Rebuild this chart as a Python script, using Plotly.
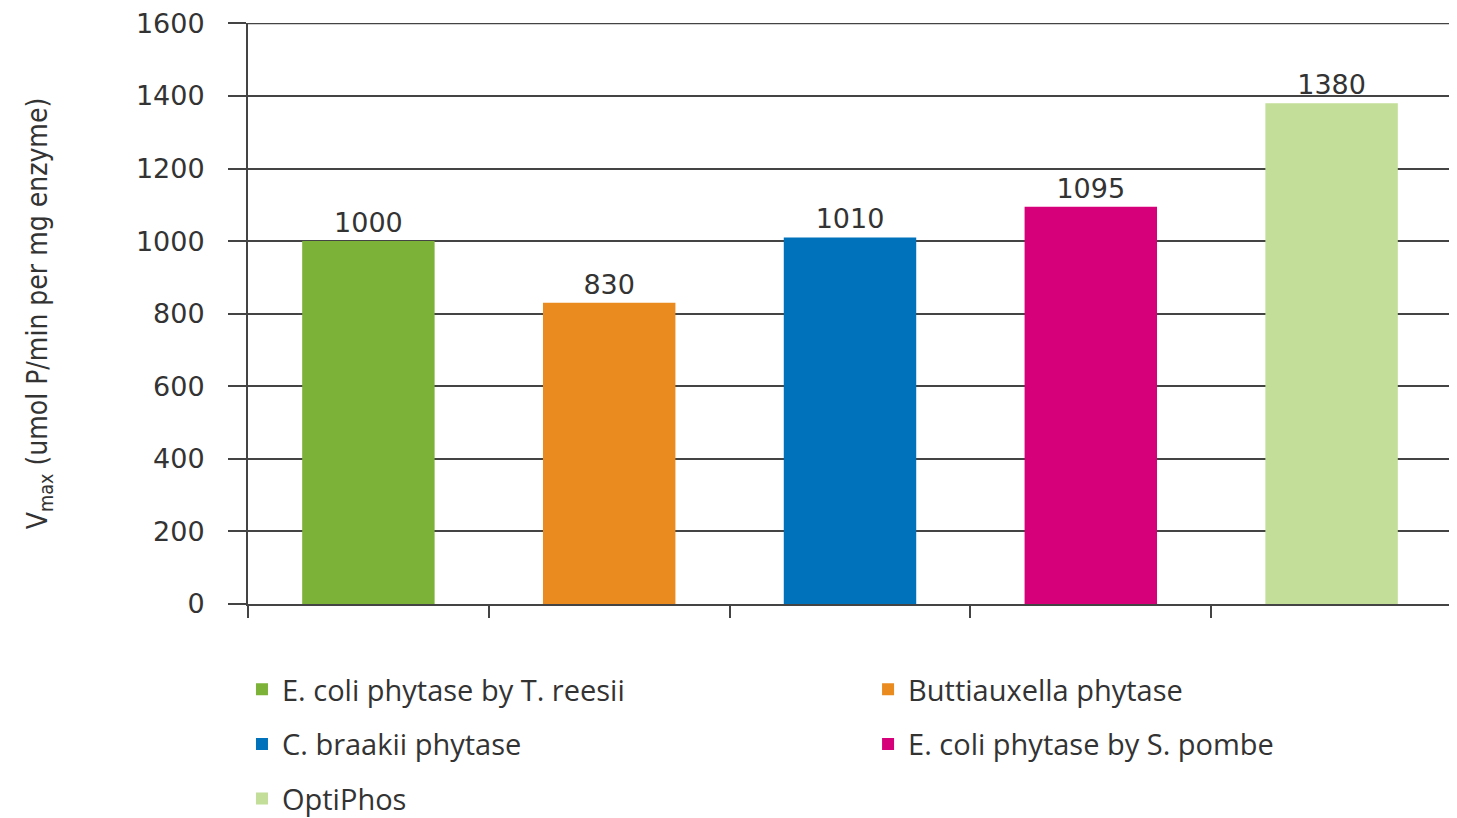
import plotly.graph_objects as go

categories = ["E. coli phytase by T. reesii", "Buttiauxella phytase", "C. braakii phytase",
              "E. coli phytase by S. pombe", "OptiPhos"]
values = [1000, 830, 1010, 1095, 1380]
colors = ["#7db238", "#e98b1f", "#0072bb", "#d6007a", "#c3de98"]
legend_ids = ["legend", "legend2", "legend", "legend2", "legend"]
y_ticks = [0, 200, 400, 600, 800, 1000, 1200, 1400, 1600]

fig = go.Figure()
for i, (c, v, col, lg) in enumerate(zip(categories, values, colors, legend_ids)):
    fig.add_trace(go.Bar(
        x=[c], y=[v], name=c, marker=dict(color=col, line=dict(width=0)),
        width=0.55, text=[str(v)], textposition="outside",
        textfont=dict(family="DejaVu Sans", size=27, color="#333333"),
        cliponaxis=False, legend=lg, legendgroup=c, showlegend=True,
    ))

# top gridline at the axis maximum (plotly omits a gridline at the range edge)
fig.add_shape(type="line", xref="paper", x0=0, x1=1, yref="y", y0=y_ticks[-1], y1=y_ticks[-1],
              line=dict(color="#444444", width=1.6), layer="below")

legend_font = dict(family="Open Sans", size=29, color="#333333")
fig.update_layout(
    width=1457, height=818,
    margin=dict(l=240, r=13, t=15, b=222, autoexpand=False),
    plot_bgcolor="white", paper_bgcolor="white",
    bargap=0.45,
    showlegend=True,
    legend=dict(x=-0.005, y=-0.103, xanchor="left", yanchor="top", orientation="v",
                font=legend_font, tracegroupgap=14, bgcolor="rgba(0,0,0,0)"),
    legend2=dict(x=0.515, y=-0.103, xanchor="left", yanchor="top", orientation="v",
                 font=legend_font, tracegroupgap=14, bgcolor="rgba(0,0,0,0)"),
    xaxis=dict(showticklabels=False, ticks="outside", tickson="boundaries", ticklen=12,
               tickwidth=2, tickcolor="#444444", showline=True, linecolor="#444444",
               linewidth=2, showgrid=False, automargin=False,
               categoryorder="array", categoryarray=categories),
    yaxis=dict(range=[0, 1601], tickvals=y_ticks, ticktext=[str(t) for t in y_ticks],
               ticks="outside", ticklen=18, tickwidth=2, tickcolor="#444444",
               showline=True, linecolor="#444444", linewidth=2, automargin=False,
               showgrid=True, gridcolor="#444444", gridwidth=1.6, zeroline=False,
               ticklabelstandoff=18, ticklabeloverflow="allow",
               tickfont=dict(family="DejaVu Sans", size=27, color="#333333"),
               title=dict(text="V<sub>max</sub> (umol P/min per mg enzyme)",
                          font=dict(family="DejaVu Sans Condensed", size=28, color="#333333"),
                          standoff=80)),
)
fig.write_html("out.html")
